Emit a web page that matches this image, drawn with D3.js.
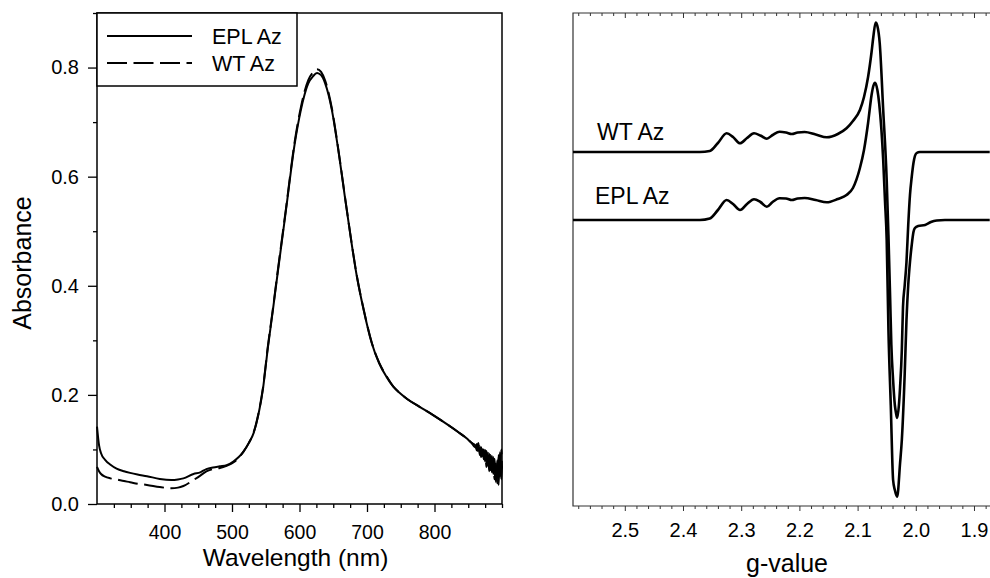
<!DOCTYPE html>
<html>
<head>
<meta charset="utf-8">
<script src="https://cdn.jsdelivr.net/npm/d3@7"></script>
<style>
  html, body { margin: 0; padding: 0; background: #fff; }
  svg { display: block; font-family: "Liberation Sans", Arial, sans-serif; }
</style>
</head>
<body>
<svg id="chart" width="990" height="578"></svg>
<script>
// ---------- UV-Vis absorbance data (left panel) ----------
const uvWavelength = [300,303,306,312,320,329,340,349,360,374,393,410,420,428,443,453,462,472,482,492,502,510,517,525,532,539,546,553,560,567,580,593,602,613,620,626,632,638,648,656,670,685,695,707,718,729,739,749,760,778,798,820,835,848,855,860,863,865,867,869,871,873,875,877,879,881,883,885,887,889,891,893,895,897,899,900];
const uvEPL = [0.142,0.108,0.093,0.081,0.072,0.065,0.060,0.057,0.054,0.051,0.046,0.044,0.045,0.047,0.055,0.058,0.064,0.067,0.069,0.071,0.078,0.086,0.096,0.112,0.130,0.163,0.212,0.285,0.350,0.417,0.539,0.661,0.722,0.771,0.784,0.790,0.786,0.771,0.722,0.661,0.539,0.417,0.356,0.295,0.258,0.233,0.215,0.203,0.192,0.178,0.163,0.145,0.132,0.120,0.112,0.108,0.098,0.112,0.090,0.104,0.088,0.100,0.078,0.097,0.070,0.092,0.062,0.088,0.055,0.083,0.040,0.080,0.035,0.095,0.045,0.070];
const uvWT = [0.068,0.060,0.055,0.050,0.047,0.045,0.042,0.040,0.037,0.035,0.031,0.029,0.030,0.033,0.044,0.052,0.060,0.064,0.066,0.070,0.076,0.085,0.096,0.112,0.131,0.165,0.214,0.288,0.352,0.420,0.542,0.665,0.727,0.777,0.791,0.797,0.792,0.776,0.725,0.663,0.540,0.418,0.357,0.296,0.259,0.234,0.215,0.203,0.192,0.178,0.163,0.145,0.132,0.120,0.112,0.104,0.110,0.095,0.106,0.086,0.102,0.082,0.099,0.068,0.094,0.060,0.090,0.058,0.086,0.045,0.078,0.038,0.090,0.050,0.100,0.065];
const uvXTicks = [400,500,600,700,800];
const uvYTicks = [0.0,0.2,0.4,0.6,0.8];
const uvSeriesNames = ["EPL Az", "WT Az"];

// ---------- EPR spectra (right panel), g-value vs derivative intensity (a.u.) ----------
const wtG = [2.589,2.371,2.354,2.340,2.325,2.314,2.302,2.290,2.278,2.267,2.256,2.246,2.234,2.223,2.213,2.203,2.191,2.172,2.153,2.134,2.119,2.108,2.096,2.089,2.082,2.076,2.073,2.069,2.066,2.062,2.056,2.050,2.047,2.044,2.042,2.039,2.036,2.034,2.032,2.029,2.027,2.024,2.022,2.019,2.016,2.013,2.010,2.007,2.004,2.0015,1.9985,1.993,1.873];
const wtSignal = [0,0,1,9,18.7,15,8.7,14,18.7,16.5,13.3,17,20.3,19.5,18,19.5,20,17.5,14.7,18,23.7,31,42,55,75,100,115,129.5,126,109,42,-28,-83,-148,-193,-228,-253,-261,-266,-253,-235,-198,-155,-133,-110,-73,-43,-25,-11,-4,-1,0,0];
const eplG = [2.589,2.371,2.354,2.340,2.325,2.314,2.302,2.290,2.278,2.267,2.256,2.246,2.234,2.223,2.213,2.203,2.191,2.172,2.153,2.134,2.119,2.108,2.096,2.089,2.082,2.076,2.073,2.070,2.066,2.063,2.056,2.053,2.050,2.047,2.043,2.039,2.036,2.032,2.027,2.024,2.019,2.016,2.013,2.010,2.007,2.004,2.0015,1.996,1.984,1.974,1.964,1.950,1.873];
const eplSignal = [0,0,1.5,10,20,16,10,16,20.7,18,13.3,18,21.7,21.5,20,21.5,22,20,17.7,21,25,32,52,70,97,125,134,137.3,130,117,60,20,-20,-110,-185,-260,-270,-276.7,-243,-220,-153,-100,-65,-42,-25,-12,-8,-6,-5,-2,-0.5,0,0];
const wtOffset = 0;
const eplOffset = -68;
const eprMajorTicks = [2.5,2.4,2.3,2.2,2.1,2.0,1.9];
const eprLabels = ["WT Az", "EPL Az"];

// ---------- drawing ----------
const svg = d3.select("#chart");
svg.append("rect").attr("width", 990).attr("height", 578).attr("fill", "#fff");

// ===== Left panel =====
const L = {left: 97, right: 502, top: 13, bottom: 504};
const xUV = d3.scaleLinear().domain([300, 900]).range([L.left, L.right]);
const yUV = d3.scaleLinear().domain([0, 0.9]).range([L.bottom, L.top]);

const gl = svg.append("g");

const uvYMinor = [0.1,0.3,0.5,0.7,0.9];
gl.append("g").attr("transform", `translate(${L.left},0)`)
  .call(d3.axisLeft(yUV).tickValues(uvYMinor).tickSize(4).tickFormat(""))
  .call(g => g.select(".domain").remove());
gl.append("g").attr("transform", `translate(${L.left},0)`)
  .call(d3.axisLeft(yUV).tickValues(uvYTicks).tickSize(9).tickPadding(9).tickFormat(d3.format(".1f")))
  .call(g => g.select(".domain").remove())
  .call(g => g.selectAll("text").attr("font-size", 20).attr("fill", "#000"));

const uvXMinor = d3.range(325, 901, 25).filter(v => !uvXTicks.includes(v));
gl.append("g").attr("transform", `translate(0,${L.bottom})`)
  .call(d3.axisBottom(xUV).tickValues(uvXMinor).tickSize(4).tickFormat(""))
  .call(g => g.select(".domain").remove());
gl.append("g").attr("transform", `translate(0,${L.bottom})`)
  .call(d3.axisBottom(xUV).tickValues(uvXTicks).tickSize(8).tickPadding(13).tickFormat(d3.format("d")))
  .call(g => g.select(".domain").remove())
  .call(g => g.selectAll("text").attr("font-size", 19.5).attr("fill", "#000"));
gl.selectAll(".tick line").attr("stroke", "#000").attr("stroke-width", 1.3);

const uvLine = d3.line().x(d => xUV(d[0])).y(d => yUV(d[1])).curve(d3.curveMonotoneX);
gl.append("path").datum(uvWavelength.map((w, i) => [w, uvWT[i]]))
  .attr("d", uvLine).attr("fill", "none").attr("stroke", "#000")
  .attr("stroke-width", 2).attr("stroke-dasharray", "20,6.5");
gl.append("path").datum(uvWavelength.map((w, i) => [w, uvEPL[i]]))
  .attr("d", uvLine).attr("fill", "none").attr("stroke", "#000")
  .attr("stroke-width", 2);

gl.append("rect").attr("x", L.left).attr("y", L.top)
  .attr("width", L.right - L.left).attr("height", L.bottom - L.top)
  .attr("fill", "none").attr("stroke", "#000").attr("stroke-width", 1.5);

// legend
const lg = gl.append("g");
lg.append("rect").attr("x", L.left).attr("y", L.top).attr("width", 200).attr("height", 73)
  .attr("fill", "#fff").attr("stroke", "#000").attr("stroke-width", 1.5);
const legendY = [36, 63];
uvSeriesNames.forEach((name, i) => {
  lg.append("line").attr("x1", 107).attr("x2", 192).attr("y1", legendY[i]).attr("y2", legendY[i])
    .attr("stroke", "#000").attr("stroke-width", 2)
    .attr("stroke-dasharray", i === 1 ? "20,6.5" : null);
  lg.append("text").attr("x", 212).attr("y", legendY[i] + 8).attr("font-size", 21.5)
    .attr("fill", "#000").text(name);
});

// axis titles
gl.append("text").attr("x", (L.left + L.right) / 2 - 4).attr("y", 566)
  .attr("text-anchor", "middle").attr("font-size", 24.5).attr("fill", "#000").text("Wavelength (nm)");
gl.append("text").attr("transform", "translate(31,263) rotate(-90)")
  .attr("text-anchor", "middle").attr("font-size", 25).attr("fill", "#000").text("Absorbance");

// ===== Right panel =====
const R = {left: 573, right: 990, top: 13, bottom: 506};
const xEPR = d3.scaleLinear().domain([2.589, 1.8725]).range([R.left, R.right]);
const yEPR = d3.scaleLinear().domain([-354, 139]).range([R.bottom, R.top]);
const gr = svg.append("g");

const eprMinor = d3.range(94, 130).map(k => +(k * 0.02).toFixed(2)).filter(v => Math.abs(v * 10 - Math.round(v * 10)) > 1e-6);
gr.append("g").attr("transform", `translate(0,${R.bottom})`)
  .call(d3.axisBottom(xEPR).tickValues(eprMinor).tickSize(3).tickFormat(""))
  .call(g => g.select(".domain").remove());
gr.append("g").attr("transform", `translate(0,${R.bottom})`)
  .call(d3.axisBottom(xEPR).tickValues(eprMajorTicks).tickSize(5).tickPadding(12).tickFormat(d3.format(".1f")))
  .call(g => g.select(".domain").remove())
  .call(g => g.selectAll("text").attr("font-size", 20).attr("fill", "#000"));
gr.append("g").attr("transform", `translate(0,${R.top})`)
  .call(d3.axisBottom(xEPR).tickValues(eprMinor).tickSize(3).tickFormat(""))
  .call(g => g.select(".domain").remove());
gr.append("g").attr("transform", `translate(0,${R.top})`)
  .call(d3.axisBottom(xEPR).tickValues(eprMajorTicks).tickSize(5).tickFormat(""))
  .call(g => g.select(".domain").remove());
gr.selectAll(".tick line").attr("stroke", "#333").attr("stroke-width", 1);

gr.append("path")
  .attr("d", `M${R.right},${R.top}H${R.left}V${R.bottom}H${R.right}`)
  .attr("fill", "none").attr("stroke", "#333").attr("stroke-width", 1.2);

const eprLine = d3.line().x(d => xEPR(d[0])).y(d => yEPR(d[1])).curve(d3.curveMonotoneX);
gr.append("path").datum(wtG.map((g, i) => [g, wtSignal[i] + wtOffset]))
  .attr("d", eprLine).attr("fill", "none").attr("stroke", "#000").attr("stroke-width", 2.6)
  .attr("stroke-linejoin", "round");
gr.append("path").datum(eplG.map((g, i) => [g, eplSignal[i] + eplOffset]))
  .attr("d", eprLine).attr("fill", "none").attr("stroke", "#000").attr("stroke-width", 2.6)
  .attr("stroke-linejoin", "round");

gr.append("text").attr("x", 597).attr("y", 140).attr("font-size", 23).attr("fill", "#000").text(eprLabels[0]);
gr.append("text").attr("x", 595).attr("y", 204).attr("font-size", 23).attr("fill", "#000").text(eprLabels[1]);

gr.append("text").attr("x", 787).attr("y", 572).attr("text-anchor", "middle")
  .attr("font-size", 25).attr("fill", "#000").text("g-value");
</script>
</body>
</html>
